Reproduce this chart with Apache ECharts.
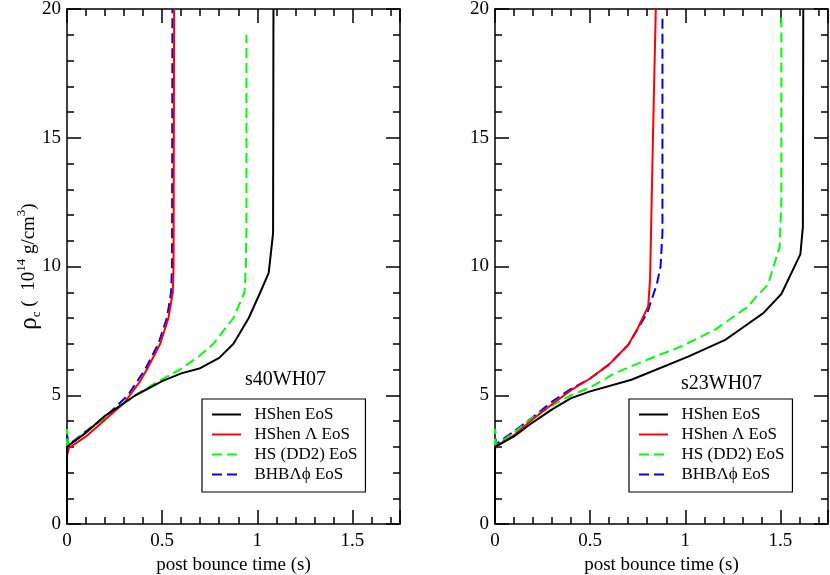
<!DOCTYPE html>
<html>
<head>
<meta charset="utf-8">
<script src="https://cdn.jsdelivr.net/npm/echarts@6/dist/echarts.min.js"></script>
<style>
  html, body { margin: 0; padding: 0; background: #fff; }
  #chart { width: 830px; height: 575px; }
</style>
</head>
<body>
<div id="chart"></div>
<script>
// 图例名称 / 颜色
var eosNames = ['HShen EoS', 'HShen \u039b EoS', 'HS (DD2) EoS', 'BHB\u039b\u03d5 EoS'];
var eosColors = ['#000000', '#ff0000', '#00ff00', '#0000ff'];
var eosDashed = [false, false, true, true];

// 坐标刻度
var xTicks = [0, 0.5, 1, 1.5];
var yTicks = [0, 5, 10, 15, 20];

// 模型名称
var modelNames = ['s40WH07', 's23WH07'];

// s40WH07  [post bounce time (s), rho_c (1e14 g/cm3)]
var s40HShen = [[0, 0], [0, 3.0], [0.01, 3.0], [0.1, 3.55], [0.2, 4.2], [0.3, 4.7], [0.36, 5.0], [0.5, 5.55],
  [0.6, 5.85], [0.7, 6.05], [0.8, 6.45], [0.875, 7.0], [0.955, 8.0], [1.016, 9.0], [1.06, 9.75],
  [1.083, 11.3], [1.085, 20]];
var s40HShenL = [[0, 0], [0, 2.65], [0.01, 2.95], [0.1, 3.4], [0.2, 4.05], [0.3, 4.7], [0.33, 5.0], [0.38, 5.5],
  [0.42, 6.0], [0.49, 7.0], [0.533, 8.0], [0.556, 9.0], [0.56, 10.0], [0.563, 20]];
var s40DD2 = [[0, 0], [0, 3.7], [0.005, 3.05], [0.1, 3.55], [0.2, 4.15], [0.36, 5.0], [0.47, 5.5], [0.595, 6.0],
  [0.7, 6.55], [0.77, 7.0], [0.875, 8.0], [0.933, 9.0], [0.94, 10.0], [0.943, 11.5], [0.943, 19.0]];
var s40BHB = [[0, 0], [0, 3.75], [0.005, 3.05], [0.1, 3.6], [0.2, 4.15], [0.32, 5.0], [0.41, 6.0], [0.48, 7.0],
  [0.525, 8.0], [0.547, 9.0], [0.552, 10.0], [0.554, 20]];

// s23WH07
var s23HShen = [[0, 0], [0, 3.0], [0.005, 3.0], [0.1, 3.4], [0.193, 3.92], [0.3, 4.45], [0.4, 4.89], [0.5, 5.15],
  [0.717, 5.6], [1.015, 6.5], [1.21, 7.15], [1.31, 7.67], [1.41, 8.19], [1.505, 8.93], [1.605, 10.48],
  [1.618, 11.54], [1.62, 20]];
var s23HShenL = [[0, 0], [0, 2.9], [0.005, 3.0], [0.1, 3.45], [0.2, 4.08], [0.3, 4.65], [0.4, 5.2], [0.5, 5.65],
  [0.6, 6.2], [0.7, 6.95], [0.75, 7.6], [0.805, 8.45], [0.815, 9.5], [0.83, 15], [0.845, 20]];
var s23DD2 = [[0, 0], [0, 3.7], [0.005, 3.05], [0.1, 3.55], [0.2, 4.15], [0.3, 4.6], [0.4, 5.0], [0.5, 5.3],
  [0.63, 5.86], [0.8, 6.38], [0.98, 6.9], [1.155, 7.54], [1.33, 8.44], [1.37, 8.8], [1.435, 9.3],
  [1.496, 10.77], [1.505, 12.6], [1.505, 19.8]];
var s23BHB = [[0, 0], [0, 3.7], [0.005, 3.1], [0.1, 3.6], [0.2, 4.15], [0.3, 4.75], [0.4, 5.25], [0.5, 5.65],
  [0.6, 6.2], [0.7, 6.95], [0.8, 8.2], [0.85, 9.3], [0.87, 10.0], [0.88, 11.3], [0.88, 19.8]];

var panelData = [[s40HShen, s40HShenL, s40DD2, s40BHB], [s23HShen, s23HShenL, s23DD2, s23BHB]];

var FONT = 'Liberation Serif';
var gridLefts = [67, 495];
var legendLefts = [202, 629];
var labelPos = [[245, 370], [681, 374]];

function xAxisOf(grid, pos) {
  var bottom = pos === 'bottom';
  return {
    type: 'value', gridIndex: grid, position: pos, min: 0, max: 1.75, interval: 0.5,
    name: bottom ? 'post bounce time (s)' : '',
    nameLocation: 'middle', nameGap: 26,
    nameTextStyle: { fontFamily: FONT, fontSize: 19, color: '#000' },
    axisLine: { show: true, onZero: false, lineStyle: { color: '#000', width: 1.5 } },
    axisTick: { show: true, inside: true, length: 14, lineStyle: { color: '#000', width: 1.5 } },
    minorTick: { show: true, splitNumber: 5, length: 7, lineStyle: { color: '#000', width: 1.5 } },
    axisLabel: {
      show: bottom, margin: 8, fontFamily: FONT, fontSize: 19, color: '#000',
      formatter: function(v) { return xTicks.indexOf(v) >= 0 ? String(v) : ''; }
    },
    splitLine: { show: false }
  };
}

function yAxisOf(grid, pos) {
  var left = pos === 'left';
  var ax = {
    type: 'value', gridIndex: grid, position: pos, min: 0, max: 20, interval: 5,
    axisLine: { show: true, onZero: false, lineStyle: { color: '#000', width: 1.5 } },
    axisTick: { show: true, inside: true, length: 14, lineStyle: { color: '#000', width: 1.5 } },
    minorTick: { show: true, splitNumber: 5, length: 7, lineStyle: { color: '#000', width: 1.5 } },
    axisLabel: {
      show: left, margin: 6, fontFamily: FONT, fontSize: 19, color: '#000',
      formatter: function(v) { return yTicks.indexOf(v) >= 0 ? String(v) : ''; }
    },
    splitLine: { show: false }
  };
  if (left && grid === 0) {
    ax.name = '{rho|\u03c1}{sub|c}{a| (  10}{sup|14}{a| g/cm}{sup|3}{a|)}';
    ax.nameLocation = 'middle';
    ax.nameGap = 24;
    ax.nameRotate = 90;
    ax.nameMoveOverlap = false;
    ax.nameTextStyle = {
      fontFamily: FONT, fontSize: 19, color: '#000',
      rich: {
        rho: { fontFamily: FONT, fontSize: 25, color: '#000', lineHeight: 28 },
        a: { fontFamily: FONT, fontSize: 19, color: '#000', lineHeight: 28 },
        sub: { fontFamily: FONT, fontSize: 13, color: '#000', lineHeight: 12, verticalAlign: 'bottom' },
        sup: { fontFamily: FONT, fontSize: 13, color: '#000', lineHeight: 13, verticalAlign: 'top' }
      }
    };
  }
  return ax;
}

var grids = [], xAxes = [], yAxes = [], series = [], legends = [], titles = [];

for (var p = 0; p < 2; p++) {
  grids.push({ left: gridLefts[p], width: 333, top: 9, bottom: 51, containLabel: false, outerBoundsMode: 'none' });
  xAxes.push(xAxisOf(p, 'bottom'));
  xAxes.push(xAxisOf(p, 'top'));
  yAxes.push(yAxisOf(p, 'left'));
  yAxes.push(yAxisOf(p, 'right'));

  for (var i = 0; i < eosNames.length; i++) {
    series.push({
      name: eosNames[i],
      type: 'line',
      xAxisIndex: p * 2,
      yAxisIndex: p * 2,
      data: panelData[p][i],
      showSymbol: false,
      symbol: 'none',
      smooth: false,
      clip: true,
      lineStyle: { color: eosColors[i], width: 2, type: eosDashed[i] ? [10, 5] : 'solid' },
      itemStyle: { color: eosColors[i] },
      z: 10 - i
    });
  }

  legends.push({
    data: eosNames,
    orient: 'vertical',
    left: legendLefts[p],
    top: 399,
    itemWidth: 29,
    itemHeight: 14,
    itemGap: 3,
    padding: [7, 8, 9, 9],
    borderColor: '#000',
    borderWidth: 1.2,
    borderRadius: 0,
    backgroundColor: '#fff',
    selectedMode: false,
    itemStyle: { opacity: 0 },
    formatter: function(name) { return '  ' + name; },
    textStyle: { fontFamily: FONT, fontSize: 17, color: '#000' }
  });

  titles.push({
    text: modelNames[p],
    left: labelPos[p][0],
    top: labelPos[p][1],
    padding: 0,
    textStyle: { fontFamily: FONT, fontSize: 20, fontWeight: 'normal', color: '#000' }
  });
}

var chart = echarts.init(document.getElementById('chart'), null, { renderer: 'canvas' });
chart.setOption({
  animation: false,
  backgroundColor: '#fff',
  title: titles,
  legend: legends,
  grid: grids,
  xAxis: xAxes,
  yAxis: yAxes,
  series: series
});
</script>
</body>
</html>
